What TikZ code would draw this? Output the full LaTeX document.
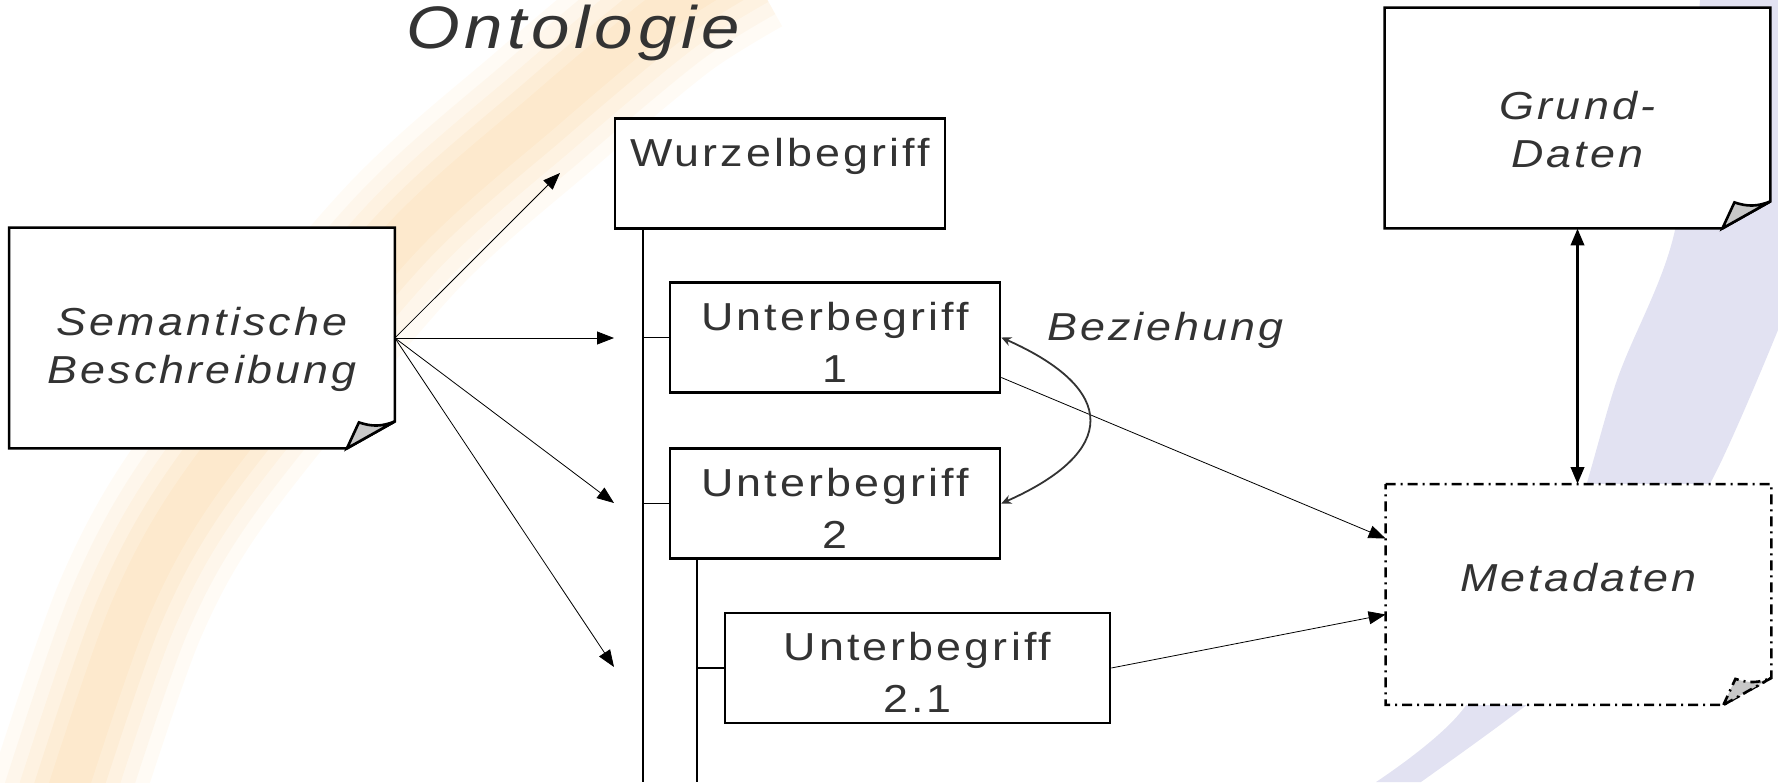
\documentclass[tikz,border=0pt]{standalone}
\usepackage{fontspec}
\setmainfont{Liberation Sans}[FakeStretch=1.15,LetterSpace=8]
\usetikzlibrary{arrows.meta}

\definecolor{ink}{RGB}{51,51,51}
\definecolor{glow}{RGB}{249,196,120}
\definecolor{lavender}{RGB}{226,226,242}
\definecolor{flapgray}{RGB}{200,200,200}

\pgfdeclarelayer{backdrop}
\pgfdeclarelayer{paper}
\pgfsetlayers{backdrop,paper,main}

\newcommand\labelfont{\fontsize{19.5}{24}\selectfont}

% sheet with turned-up corner round a note node
\newcommand\notepaper[2][]{%
  \begin{pgfonlayer}{paper}
  \filldraw[fill=white,line width=1.3pt,#1] (#2.north west) -- (#2.north east)
      -- ([shift={(0,-27)}]#2.south east) -- ([shift={(-48,0)}]#2.south east)
      -- (#2.south west) -- cycle;
  \filldraw[fill=flapgray,line width=1.3pt,#1] ([shift={(-48,0)}]#2.south east)
      -- ([shift={(-36,-26)}]#2.south east) to[bend right=20]
      ([shift={(0,-27)}]#2.south east) -- cycle;
  \end{pgfonlayer}}

\tikzset{
  concept/.style={draw,fill=white,line width=1.3pt,font=\fontsize{19.5}{26}\selectfont,
    align=center,minimum width=165pt,minimum height=55pt,inner sep=0pt,
    text height=44.5pt,text depth=0pt},
  note/.style={font=\labelfont\itshape,align=center,
    minimum width=192.5pt,minimum height=110pt,inner sep=0pt,
    text height=45pt,text depth=0pt},
}

\begin{document}
\begin{tikzpicture}[x=0.5pt,y=-0.5pt,line width=1.3pt,text=ink,
    >={Triangle[length=8.5pt,width=6.5pt]}]
\useasboundingbox (0,0) rectangle (1778,782);

\begin{pgfonlayer}{backdrop}
\foreach \w/\o in {76/0.07,62/0.08,48/0.09,34/0.1,20/0.1}
  \draw [glow,opacity=\o,line width=\w pt]
    plot[smooth] coordinates {(745,-40) (665,10) (545,110) (400,240) (210,470) (130,610) (55,830)};
\fill [lavender] plot[smooth] coordinates {(1700,0) (1675,230) (1617,380) (1560,560) (1460,713) (1376,782)}
    -- plot[smooth] coordinates {(1421,782) (1516,713) (1620,630) (1712,480) (1778,330)}
    -- (1778,0) -- cycle;
\end{pgfonlayer}

\node [font=\fontsize{30}{36}\selectfont\itshape,anchor=base] (title) at (573, 48) {Ontologie};

\node [concept,text height=20pt,text depth=27pt] (wurzel) at (780, 173.5) {Wurzelbegriff};
\node [concept]                      (u1)     at (835, 337.5) {Unterbegriff\\1};
\node [concept]                      (u2)     at (835, 503.5) {Unterbegriff\\2};
\node [concept,minimum width=192.5pt] (u21)   at (917.5, 668) {Unterbegriff\\2.1};

\node [note]                     (sem)   at (202, 338)      {Semantische\\Beschreibung};
\node [note,text height=49pt]    (grund) at (1577.5, 118)   {Grund-\\Daten};
\node [note,text height=20pt,text depth=23pt] (meta) at (1578.5, 594.5) {Metadaten};
\notepaper{sem}
\notepaper{grund}
\notepaper[dash pattern=on 5pt off 2.5pt on 1pt off 2.5pt]{meta}

\node [font=\labelfont\itshape,anchor=base west] (rel) at (1040, 340) {Beziehung};

% tree lines
\coordinate (trunk)  at (643, 782);
\coordinate (branch) at (697, 782);
\draw [line width=0.8pt] (wurzel.south -| trunk) -- (trunk);
\draw [line width=0.8pt] (u1.west -| trunk) -- (u1.west);
\draw [line width=0.8pt] (u2.west -| trunk) -- (u2.west);
\draw [line width=0.8pt] (u2.south -| branch) -- (branch);
\draw [line width=0.8pt] (u21.west -| branch) -- (u21.west);

% description points at the tree
\coordinate (p0) at (560, 173);
\coordinate (p1) at (614, 338);
\coordinate (p2) at (614, 503);
\coordinate (p3) at (614, 667);
\foreach \p in {p0,p1,p2,p3}
  \draw [->] (sem.east) -- (\p);

\draw [->] ([shift={(0,40)}]u1.east) -- ([shift={(0,-56)}]meta.west);
\draw [->] (u21.east) -- ([shift={(0,20)}]meta.west);
\draw [<->,line width=1.8pt] (grund.south) -- (grund.south |- meta.north);

\draw [{Stealth[length=5pt,width=4.5pt]}-{Stealth[length=5pt,width=4.5pt]},line width=0.9pt,ink]
    (u1.east) .. controls +(117,52) and +(117,-52) .. (u2.east);
\end{tikzpicture}
\end{document}
